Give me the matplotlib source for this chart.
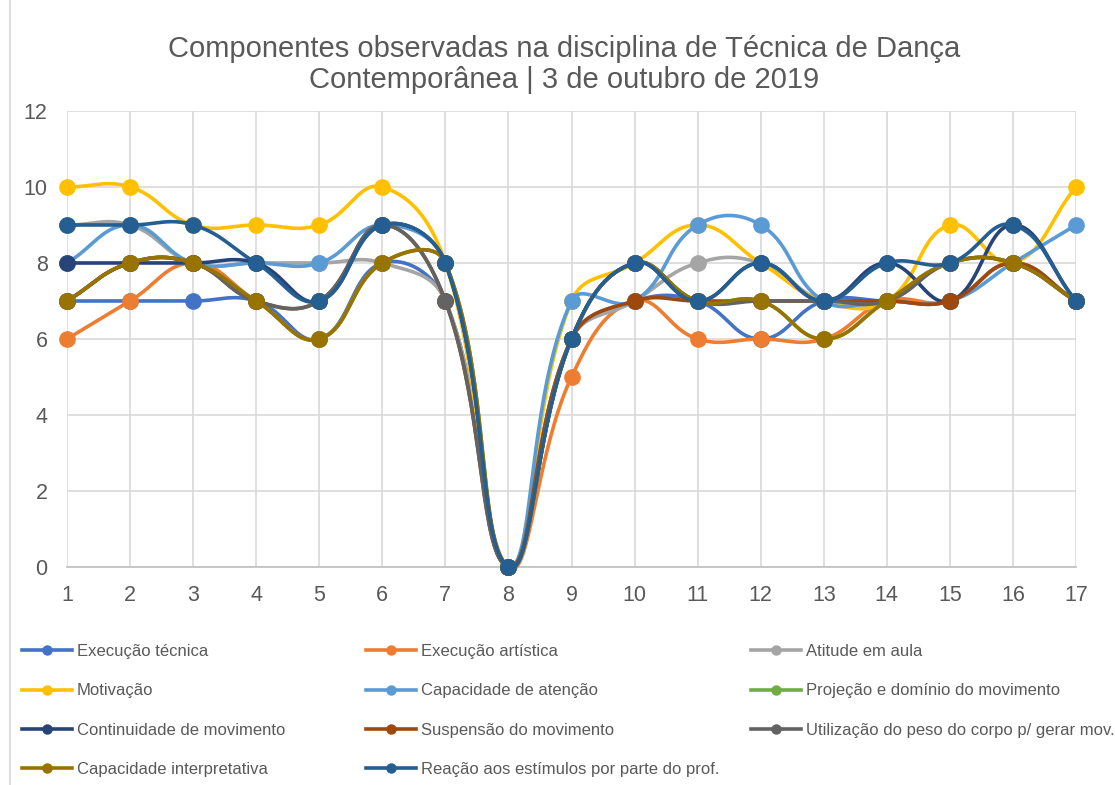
import numpy as np
import matplotlib
matplotlib.use('Agg')
import matplotlib.pyplot as plt
from matplotlib.lines import Line2D

# ---------------------------- Dados -------------------------------

aulas = list(range(1, 18))

series_nomes = [
    'Execução técnica',
    'Execução artística',
    'Atitude em aula',
    'Motivação',
    'Capacidade de atenção',
    'Projeção e domínio do movimento',
    'Continuidade de movimento',
    'Suspensão do movimento',
    'Utilização do peso do corpo p/ gerar mov.',
    'Capacidade interpretativa',
    'Reação aos estímulos por parte do prof.',
]

execucao_tecnica   = [7, 7, 7, 7, 6, 8, 7, 0, 6, 7, 7, 6, 7, 7, 7, 8, 7]
execucao_artistica = [6, 7, 8, 7, 6, 8, 8, 0, 5, 7, 6, 6, 6, 7, 7, 8, 7]
atitude            = [9, 9, 8, 8, 8, 8, 7, 0, 6, 7, 8, 8, 7, 7, 8, 8, 7]
motivacao          = [10, 10, 9, 9, 9, 10, 8, 0, 7, 8, 9, 8, 7, 7, 9, 8, 10]
atencao            = [8, 9, 8, 8, 8, 9, 8, 0, 7, 7, 9, 9, 7, 7, 7, 8, 9]
projecao           = [7, 8, 8, 7, 6, 8, 8, 0, 6, 8, 7, 7, 6, 7, 8, 8, 7]
continuidade       = [8, 8, 8, 8, 7, 9, 8, 0, 6, 8, 7, 8, 7, 8, 7, 9, 7]
suspensao          = [7, 8, 8, 7, 7, 9, 7, 0, 6, 7, 7, 7, 7, 7, 7, 8, 7]
peso_corpo         = [7, 8, 8, 7, 7, 9, 7, 0, 6, 8, 7, 7, 7, 7, 8, 8, 7]
interpretativa     = [7, 8, 8, 7, 6, 8, 8, 0, 6, 8, 7, 7, 6, 7, 8, 8, 7]
reacao             = [9, 9, 9, 8, 7, 9, 8, 0, 6, 8, 7, 8, 7, 8, 8, 9, 7]

valores = [execucao_tecnica, execucao_artistica, atitude, motivacao, atencao,
           projecao, continuidade, suspensao, peso_corpo, interpretativa, reacao]

cores = ['#4472C4', '#ED7D31', '#A5A5A5', '#FFC000', '#5B9BD5', '#70AD47',
         '#264478', '#9E480E', '#636363', '#997300', '#255E91']

TENSAO = 0.43
ESC_X, ESC_Y = 63.06, 38.0      # pixels por unidade em x e y

# ---------------------------- Funções -------------------------------

def suavizar(x, y, n=40):
    # curva suavizada tipo Excel: Bezier com controles ponderados pela distância (em pixels)
    p = np.column_stack([np.asarray(x) * ESC_X, np.asarray(y) * ESC_Y]).astype(float)
    m = len(p)
    antes = p.copy()
    depois = p.copy()
    for i in range(m):
        p0 = p[max(i - 1, 0)]
        p2 = p[min(i + 1, m - 1)]
        d01 = np.hypot(*(p[i] - p0))
        d12 = np.hypot(*(p2 - p[i]))
        if d01 + d12 == 0:
            continue
        antes[i] = p[i] - TENSAO * d01 / (d01 + d12) * (p2 - p0)
        depois[i] = p[i] + TENSAO * d12 / (d01 + d12) * (p2 - p0)
    t = np.linspace(0, 1, n)[:, None]
    partes = []
    for i in range(m - 1):
        a, c1, c2, b = p[i], depois[i], antes[i + 1], p[i + 1]
        partes.append((1 - t) ** 3 * a + 3 * (1 - t) ** 2 * t * c1 + 3 * (1 - t) * t ** 2 * c2 + t ** 3 * b)
    r = np.vstack(partes)
    return r[:, 0] / ESC_X, r[:, 1] / ESC_Y

# ---------------------------- Gráfico -------------------------------

plt.rcParams['font.family'] = ['Liberation Sans', 'DejaVu Sans']
cinza = '#595959'

fig = plt.figure(figsize=(11.15, 7.85), dpi=100)
ax = fig.add_axes([67 / 1115, 1 - 567 / 785, (1076 - 67) / 1115, (567 - 111) / 785])

for i, (vals, cor) in enumerate(zip(valores, cores)):
    xs, ys = suavizar(aulas, vals)
    ax.plot(xs, ys, color=cor, lw=2.6, zorder=3 + i * 2, clip_on=False,
            solid_capstyle='round')
    ax.plot(aulas, vals, 'o', color=cor, ms=11, zorder=4 + i * 2, clip_on=False)

ax.set_xlim(1, 17)
ax.set_ylim(0, 12)
ax.set_xticks(aulas)
ax.set_yticks(range(0, 13, 2))
ax.grid(True, color='#D9D9D9', lw=1.2, zorder=0)
for s in ['top', 'right', 'left']:
    ax.spines[s].set_visible(False)
ax.spines['bottom'].set_color('#BFBFBF')
ax.spines['bottom'].set_linewidth(1.2)
ax.tick_params(length=0, labelsize=15.5, labelcolor=cinza)
ax.tick_params(axis='y', pad=14)
ax.tick_params(axis='x', pad=13)

fig.text(564 / 1115, 1 - 57 / 785, 'Componentes observadas na disciplina de Técnica de Dança',
         ha='center', va='baseline', fontsize=21, color=cinza)
fig.text(564 / 1115, 1 - 88 / 785, 'Contemporânea | 3 de outubro de 2019',
         ha='center', va='baseline', fontsize=21, color=cinza)

# borda esquerda da área do gráfico
fig.add_artist(Line2D([10 / 1115, 10 / 1115], [0, 1], color='#D9D9D9', lw=1.2))

# legenda em 3 colunas (ordem por linhas como no Excel)
handles = [Line2D([], [], color=c, lw=2.6, marker='o', ms=6.5) for c in cores]
colunas = [([0, 3, 6, 9], 22), ([1, 4, 7, 10], 366), ([2, 5, 8], 751)]
for idx, xpos in colunas:
    fig.legend([handles[k] for k in idx], [series_nomes[k] for k in idx],
               loc='upper left', bbox_to_anchor=(xpos / 1115, 1 - 644 / 785),
               frameon=False, fontsize=12, handlelength=3.0, handletextpad=0.3,
               labelspacing=1.46, borderpad=0, borderaxespad=0,
               labelcolor=cinza)

fig.savefig('out.png', dpi=100)
